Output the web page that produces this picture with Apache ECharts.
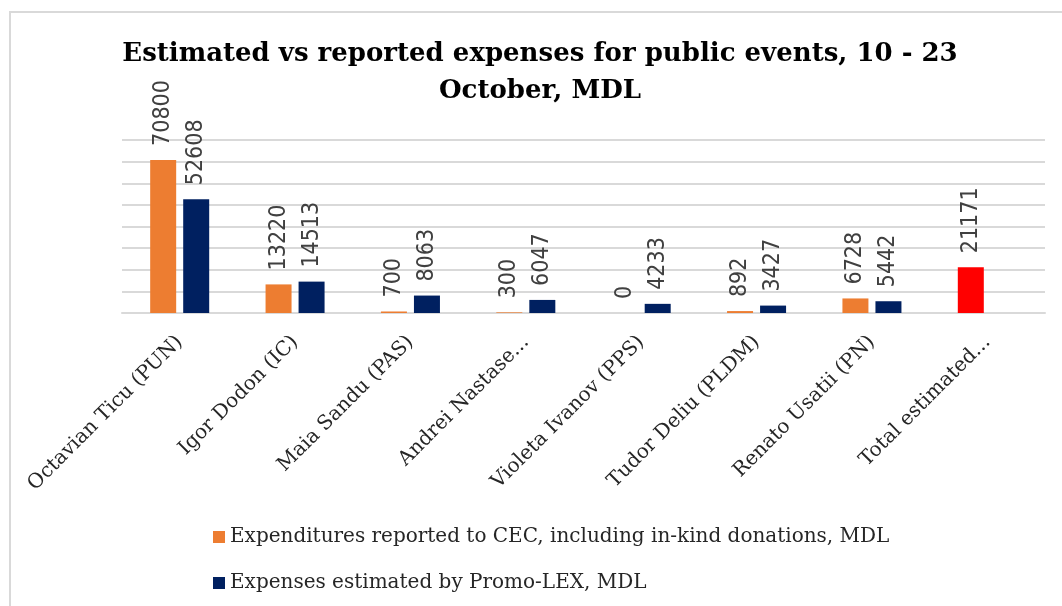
<!DOCTYPE html>
<html>
<head>
<meta charset="utf-8">
<script src="https://cdn.jsdelivr.net/npm/echarts@6/dist/echarts.min.js"></script>
<style>
  html, body { margin: 0; padding: 0; background: #fff; overflow: hidden; }
  #chart { width: 1080px; height: 606px; }
</style>
</head>
<body>
<div id="chart"></div>
<script>
var categories = ['Octavian Ticu (PUN)', 'Igor Dodon (IC)', 'Maia Sandu (PAS)', 'Andrei Nastase...',
  'Violeta Ivanov (PPS)', 'Tudor Deliu (PLDM)', 'Renato Usatii (PN)', 'Total estimated...'];
var reported = [70800, 13220, 700, 300, 0, 892, 6728, 21171];
var estimated = [52608, 14513, 8063, 6047, 4233, 3427, 5442, null];
var seriesNames = ['Expenditures reported to CEC, including in-kind donations, MDL',
  'Expenses estimated by Promo-LEX, MDL'];

var serif = '"DejaVu Serif", "Liberation Serif", serif';

var labelStyle = {
  show: true,
  position: 'top',
  rotate: 90,
  align: 'left',
  verticalAlign: 'middle',
  distance: 14,
  color: '#404040',
  fontSize: 23,
  fontFamily: '"DejaVu Sans Condensed", "Liberation Sans Narrow", sans-serif'
};

// last bar (the total) is drawn red
var reportedData = reported.map(function (v, i) {
  if (i === reported.length - 1) return { value: v, itemStyle: { color: '#FF0000' } };
  return v;
});

var option = {
  animation: false,
  title: {
    text: 'Estimated vs reported expenses for public events, 10 - 23\nOctober, MDL',
    left: 'center',
    top: 36,
    padding: 0,
    textStyle: {
      fontFamily: serif,
      fontWeight: 'bold',
      fontSize: 26,
      lineHeight: 37,
      color: '#000'
    }
  },
  legend: {
    orient: 'vertical',
    left: 208,
    top: 522,
    itemWidth: 12,
    itemHeight: 12,
    itemGap: 26,
    icon: 'rect',
    textStyle: {
      fontFamily: serif,
      fontSize: 20,
      color: '#262626'
    },
    data: seriesNames
  },
  grid: { left: 122, right: 35, top: 140, bottom: 293 },
  xAxis: {
    type: 'category',
    data: categories,
    axisLine: { lineStyle: { color: '#d9d9d9', width: 2 } },
    axisTick: { show: false },
    axisLabel: {
      interval: 0,
      rotate: 45,
      margin: 26,
      fontFamily: serif,
      fontSize: 20,
      color: '#262626'
    }
  },
  yAxis: {
    type: 'value',
    min: 0,
    max: 80000,
    interval: 10000,
    axisLine: { show: false },
    axisTick: { show: false },
    axisLabel: { show: false },
    splitLine: { lineStyle: { color: '#d9d9d9', width: 2 } }
  },
  graphic: [{
    type: 'rect',
    silent: true,
    shape: { x: 10, y: 12, width: 1200, height: 800 },
    style: { fill: 'none', stroke: '#d9d9d9', lineWidth: 2 }
  }],
  series: [
    {
      name: seriesNames[0],
      type: 'bar',
      barWidth: 26,
      barGap: '27%',
      itemStyle: { color: '#ED7D31' },
      label: labelStyle,
      data: reportedData
    },
    {
      name: seriesNames[1],
      type: 'bar',
      barWidth: 26,
      itemStyle: { color: '#002060' },
      label: labelStyle,
      data: estimated
    }
  ]
};

echarts.init(document.getElementById('chart')).setOption(option);
</script>
</body>
</html>
